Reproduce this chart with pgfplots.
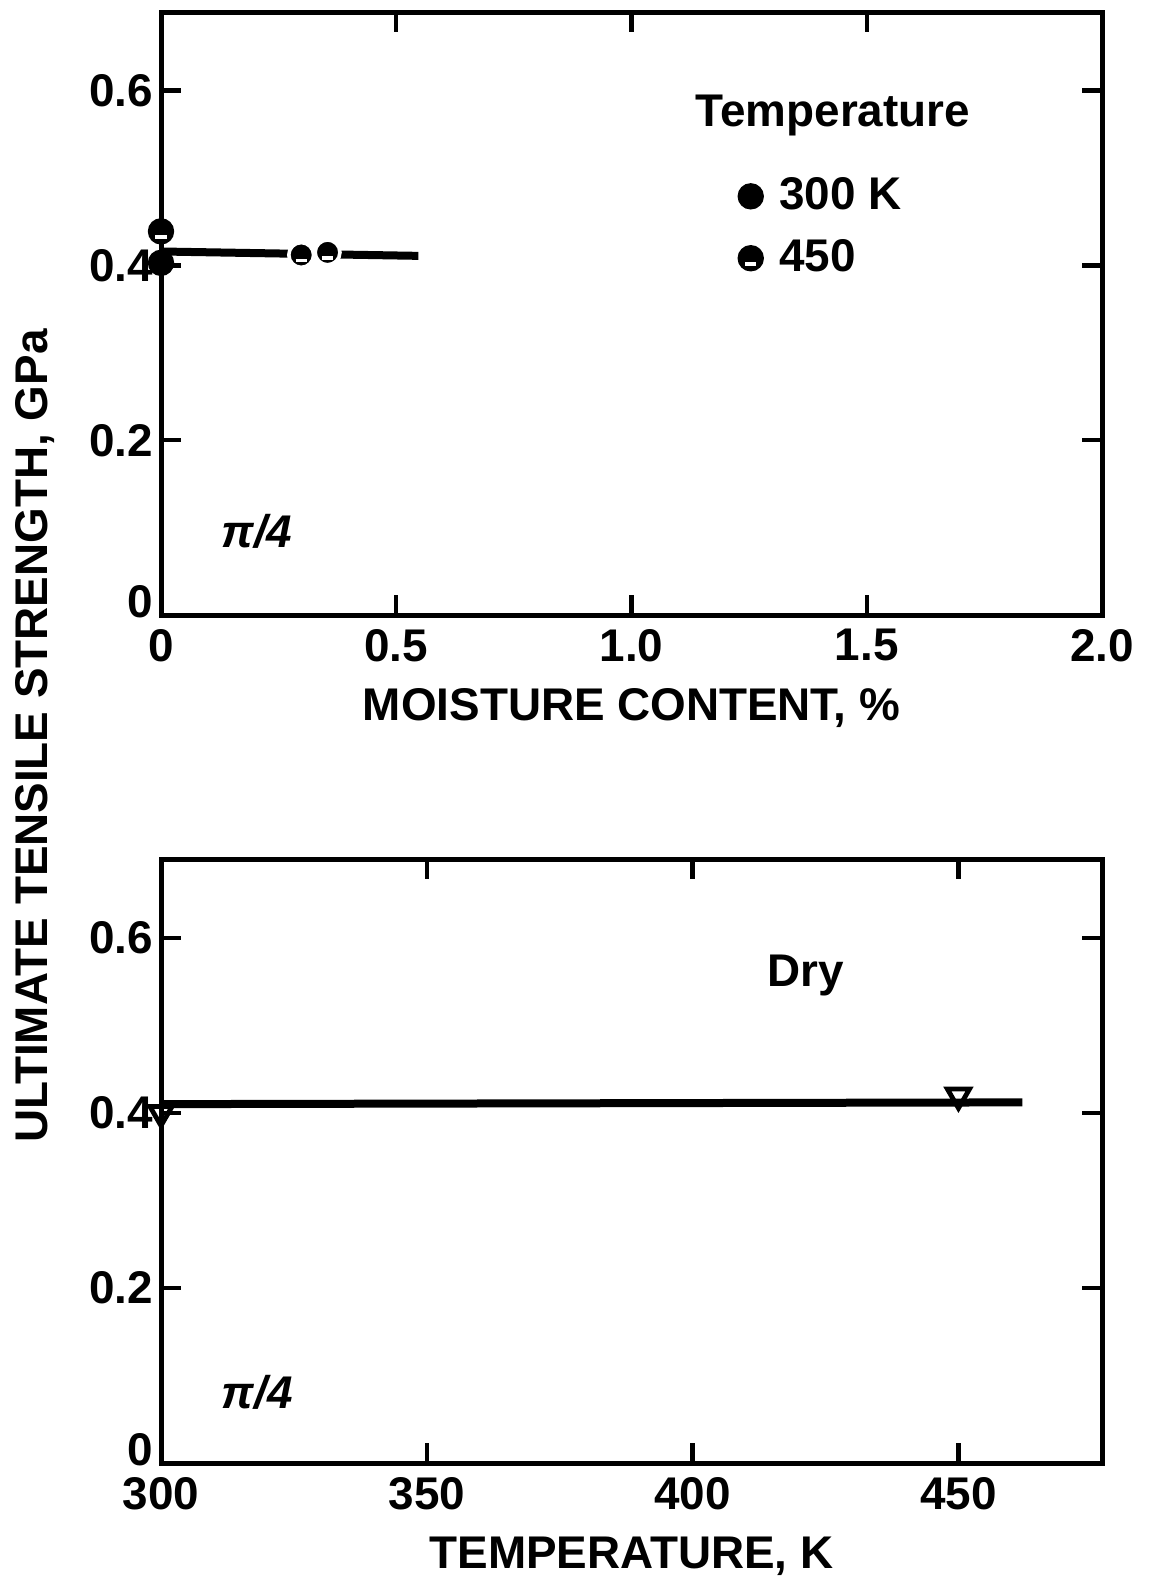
\documentclass[border=0pt]{standalone}
\usepackage{fontspec}
\setmainfont{Liberation Sans}
\usepackage{pgfplots}
\pgfplotsset{compat=1.18}

% filled circle with a white dash near the bottom (450 K)
\pgfdeclareplotmark{wetdot}{%
  \pgfpathcircle{\pgfpointorigin}{\pgfplotmarksize}%
  \pgfusepathqfillstroke
  \pgfsetstrokecolor{white}%
  \pgfsetlinewidth{0.9bp}%
  \pgfpathmoveto{\pgfqpoint{-0.45\pgfplotmarksize}{-0.45\pgfplotmarksize}}%
  \pgfpathlineto{\pgfqpoint{0.45\pgfplotmarksize}{-0.45\pgfplotmarksize}}%
  \pgfusepathqstroke
}

\newcommand\lbl{\fontsize{11.5}{13}\selectfont\bfseries}

\begin{document}
\begin{tikzpicture}[x=1bp,y=1bp]
\pgfplotsset{
  every axis/.append style={
    scale only axis,
    width=235.25bp,
    anchor=south west,
    clip=false,
    axis line style={line width=1.25bp},
    every tick/.style={black, line width=1.1bp},
    major tick length=5bp,
    tick align=inside,
    xtick pos=both, ytick pos=both,
    xticklabel pos=lower, yticklabel pos=left,
    font=\lbl,
    tick label style={font=\lbl},
    /pgf/number format/assume math mode=true,
    ymin=0, ymax=0.69,
    ytick={0,0.2,0.4,0.6},
    yticklabels={\raisebox{7bp}{0},0.2,0.4,0.6},
    yticklabel style={xshift=1.5bp},
  },
}

\begin{axis}[
  at={(0bp,0bp)},
  height=150.75bp,
  xmin=0, xmax=2.0,
  xtick={0,0.5,1.0,1.5,2.0},
  xticklabels={0,0.5,1.0,1.5,2.0},
  xlabel={MOISTURE CONTENT, \%},
  legend cell align=left,
  legend style={draw=none, fill=none, at={(axis cs:1.20,0.52)}, anchor=north west,
    row sep=2bp, font=\lbl,
    /tikz/every odd column/.append style={column sep=2bp}},
  legend image code/.code={\draw[#1] plot coordinates {(0.1cm,0cm)};},
]
\addplot[line width=2bp, forget plot] coordinates {(0,0.416) (0.547,0.411)};
\addplot[only marks, mark=*, mark size=3.1bp, draw=black, fill=black] coordinates {(0,0.403)};
\addlegendentry{300 K}
\addplot[only marks, mark=wetdot, mark size=3.1bp, draw=black, fill=black] coordinates {
  (0,0.439) (0.298,0.412) (0.354,0.415)};
\addlegendentry{450}
\node at (axis cs:1.428,0.572) {\lbl Temperature};
\node at (axis cs:0.204,0.096) {\lbl\itshape π/4};
\end{axis}

\begin{axis}[
  at={(0bp,-212bp)},
  height=151bp,
  xmin=300, xmax=477,
  xtick={300,350,400,450},
  xticklabels={300,350,400,450},
  xlabel={TEMPERATURE, K},
]
\addplot[line width=2bp] coordinates {(300,0.410) (462,0.412)};
\addplot[only marks, mark=triangle, mark size=3.2bp,
  mark options={rotate=180, fill=white, draw=black, line width=1.2bp}] coordinates {
  (300,0.400) (450,0.420)};
\node at (axis cs:421.3,0.557) {\lbl Dry};
\node at (axis cs:318.1,0.081) {\lbl\itshape π/4};
\end{axis}

\node[rotate=90] at (-31.5,-30.25) {\lbl ULTIMATE TENSILE STRENGTH, GPa};

\pgfresetboundingbox
\path[use as bounding box] (-40.25,-241.75) rectangle (249.25,153.75);
\end{tikzpicture}
\end{document}
